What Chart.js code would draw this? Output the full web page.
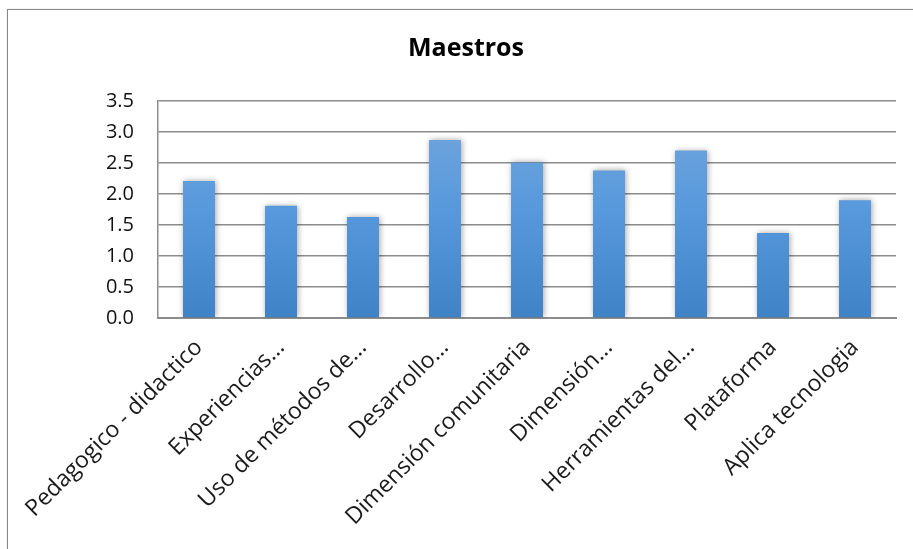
<!DOCTYPE html>
<html>
<head>
<meta charset="utf-8">
<script src="https://cdn.jsdelivr.net/npm/chart.js@4.4.1/dist/chart.umd.min.js"></script>
<style>
    html, body { margin: 0; padding: 0; background: #fff; overflow: hidden; }
    #marco {
        position: absolute; left: 7px; top: 9px; width: 920px; height: 560px;
        border: 1px solid #8a8a8a; box-shadow: 0 0 1px #bbb;
    }
    #wrap { position: absolute; left: 0; top: 0; width: 913px; height: 549px; }
</style>
</head>
<body>
<div id="marco"></div>
<div id="wrap"><canvas id="grafica"></canvas></div>
<script>
// ======= Datos de la gráfica =======
const categorias = [
    'Pedagogico - didactico',
    'Experiencias...',
    'Uso de métodos de...',
    'Desarrollo...',
    'Dimensión comunitaria',
    'Dimensión...',
    'Herramientas del...',
    'Plataforma',
    'Aplica tecnologia'
];
const valores = [2.21, 1.81, 1.63, 2.87, 2.51, 2.38, 2.70, 1.37, 1.90];
const ticksY = [0, 0.5, 1.0, 1.5, 2.0, 2.5, 3.0, 3.5];

const fuente = "'Open Sans', 'Liberation Sans', sans-serif";

// sombra suave detras de las barras
const sombraBarras = {
    id: 'sombraBarras',
    beforeDatasetsDraw(chart) {
        const c = chart.ctx;
        c.save();
        c.shadowColor = 'rgba(0,0,0,0.35)';
        c.shadowBlur = 6;
        c.shadowOffsetX = 1;
        c.shadowOffsetY = 0;
    },
    afterDatasetsDraw(chart) {
        chart.ctx.restore();
    }
};

function degradado(context) {
    const area = context.chart.chartArea;
    if (!area) return '#5b9bd5';
    const g = context.chart.ctx.createLinearGradient(0, area.top, 0, area.bottom);
    g.addColorStop(0, '#76a7dc');
    g.addColorStop(0.5, '#5799dc');
    g.addColorStop(1, '#3f82c6');
    return g;
}

const ctx = document.getElementById('grafica').getContext('2d');
new Chart(ctx, {
    type: 'bar',
    data: {
        labels: categorias,
        datasets: [{
            data: valores,
            backgroundColor: degradado,
            borderWidth: 0,
            barPercentage: 0.39,
            categoryPercentage: 1.0
        }]
    },
    plugins: [sombraBarras],
    options: {
        responsive: true,
        maintainAspectRatio: false,
        animation: false,
        layout: { padding: { left: 36, right: 17, top: 0, bottom: 0 } },
        plugins: {
            legend: { display: false },
            tooltip: { enabled: false },
            title: {
                display: true,
                text: 'Maestros',
                color: '#000',
                font: { family: fuente, size: 25, weight: 'bold' },
                padding: { top: 34, bottom: 37 }
            }
        },
        scales: {
            x: {
                grid: { display: false, drawTicks: false },
                border: { display: true, color: '#8c8c8c', width: 2 },
                ticks: {
                    autoSkip: false,
                    maxRotation: 45,
                    minRotation: 45,
                    padding: 16,
                    color: '#1a1a1a',
                    font: { family: fuente, size: 23 }
                },
                afterFit(scale) { scale.height = 231; }
            },
            y: {
                min: 0,
                max: 3.5,
                afterBuildTicks(scale) {
                    scale.ticks = ticksY.map(v => ({ value: v }));
                },
                grid: { color: '#8c8c8c', lineWidth: 1.5, drawTicks: false },
                border: { display: true, color: '#8c8c8c', width: 1.5 },
                ticks: {
                    padding: 24,
                    color: '#111',
                    font: { family: fuente, size: 20 },
                    callback: v => Number(v).toFixed(1)
                },
                afterFit(scale) { scale.width = 122; }
            }
        }
    }
});
</script>
</body>
</html>
